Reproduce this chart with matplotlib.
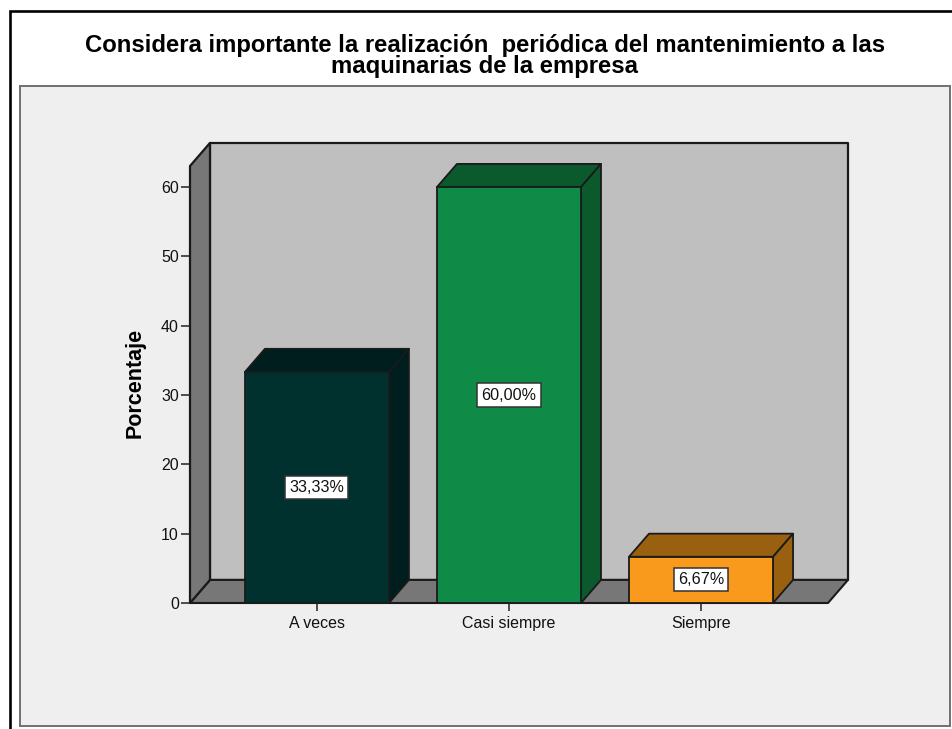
import matplotlib
matplotlib.use('Agg')
import matplotlib.pyplot as plt
from matplotlib.patches import Polygon, Rectangle

categorias = ['A veces', 'Casi siempre', 'Siempre']
porcentajes = [33.33, 60.00, 6.67]
etiquetas = ['33,33%', '60,00%', '6,67%']
ticks_y = [0, 10, 20, 30, 40, 50, 60]
titulo = 'Considera importante la realización  periódica del mantenimiento a las\nmaquinarias de la empresa'

cor_frente = ['#00312f', '#0f8a47', '#f99a1c']
cor_topo = ['#001e1d', '#0a5a2e', '#99600f']
cor_lado = ['#001e1d', '#0a5a2e', '#99600f']
borda = '#1a1a1a'

plt.rcParams['font.family'] = ['Liberation Sans', 'DejaVu Sans']

L, A = 952, 729
fig = plt.figure(figsize=(L / 100, A / 100), dpi=100, facecolor='white')

# moldura externa e painel cinza claro
fig.add_artist(Rectangle((9.5 / L, -0.02), 1.1, 1 + 0.02 - 10.5 / A, transform=fig.transFigure,
                         fc='white', ec='black', lw=1.9))
fig.add_artist(Rectangle((19.5 / L, 1 - 726 / A), 930 / L, 640.5 / A, transform=fig.transFigure,
                         fc='#efefef', ec='#707070', lw=1.4))

ax = fig.add_axes([190 / L, 1 - 603 / A, 638 / L, 437 / A])
ax.set_zorder(5)
ax.patch.set_visible(False)
x0, x1 = -0.661, 2.661
y_max = 63.03
ax.set_xlim(x0, x1)
ax.set_ylim(0, y_max)

# deslocamento da profundidade 3D, em unidades dos eixos
dx = 0.104
dy = 3.33


def poligono(pontos, cor, z, lw=1.3):
    ax.add_patch(Polygon(pontos, closed=True, fc=cor, ec=borda, lw=lw, zorder=z,
                         clip_on=False, joinstyle='round'))


# parede do fundo, chão e parede lateral
poligono([(x0 + dx, dy), (x1 + dx, dy), (x1 + dx, y_max + dy), (x0 + dx, y_max + dy)], '#bfbfbf', 1, 1.6)
poligono([(x0, 0), (x1, 0), (x1 + dx, dy), (x0 + dx, dy)], '#777777', 1.1, 1.5)
poligono([(x0, 0), (x0, y_max), (x0 + dx, y_max + dy), (x0 + dx, dy)], '#777777', 1.2, 1.6)

largura = 0.75
posicoes = list(range(len(categorias)))
for i in posicoes:
    v = porcentajes[i]
    esq = i - largura / 2
    dir_ = i + largura / 2
    poligono([(esq, v), (dir_, v), (dir_ + dx, v + dy), (esq + dx, v + dy)], cor_topo[i], 2)
    poligono([(dir_, 0), (dir_, v), (dir_ + dx, v + dy), (dir_ + dx, dy)], cor_lado[i], 2)
    ax.bar(i, v, width=largura, color=cor_frente[i], edgecolor=borda, linewidth=1.3, zorder=3)
    ax.text(i, v / 2, etiquetas[i], ha='center', va='center', fontsize=11.6, color='#111111', zorder=4,
            bbox=dict(boxstyle='square,pad=0.25', fc='white', ec='#333333', lw=1.1))

for s in ['top', 'right', 'left', 'bottom']:
    ax.spines[s].set_visible(False)

ax.set_yticks(ticks_y)
ax.set_xticks(posicoes)
ax.set_xticklabels(categorias)
ax.tick_params(axis='y', length=6.5, width=1.1, color='#222222', labelsize=11.5, pad=1.5, labelcolor='#111111')
ax.tick_params(axis='x', length=5.5, width=1.1, color='#222222', labelsize=11.5, pad=4, labelcolor='#111111')

fig.text(135 / L, 1 - 383 / A, 'Porcentaje', rotation=90, ha='center', va='center',
         fontsize=15.5, fontweight='bold', color='black')
fig.text(485 / L, 1 - 56 / A, titulo, ha='center', va='center', fontsize=17.2, fontweight='bold',
         color='black', linespacing=0.85)

fig.savefig('out.png', dpi=100)
